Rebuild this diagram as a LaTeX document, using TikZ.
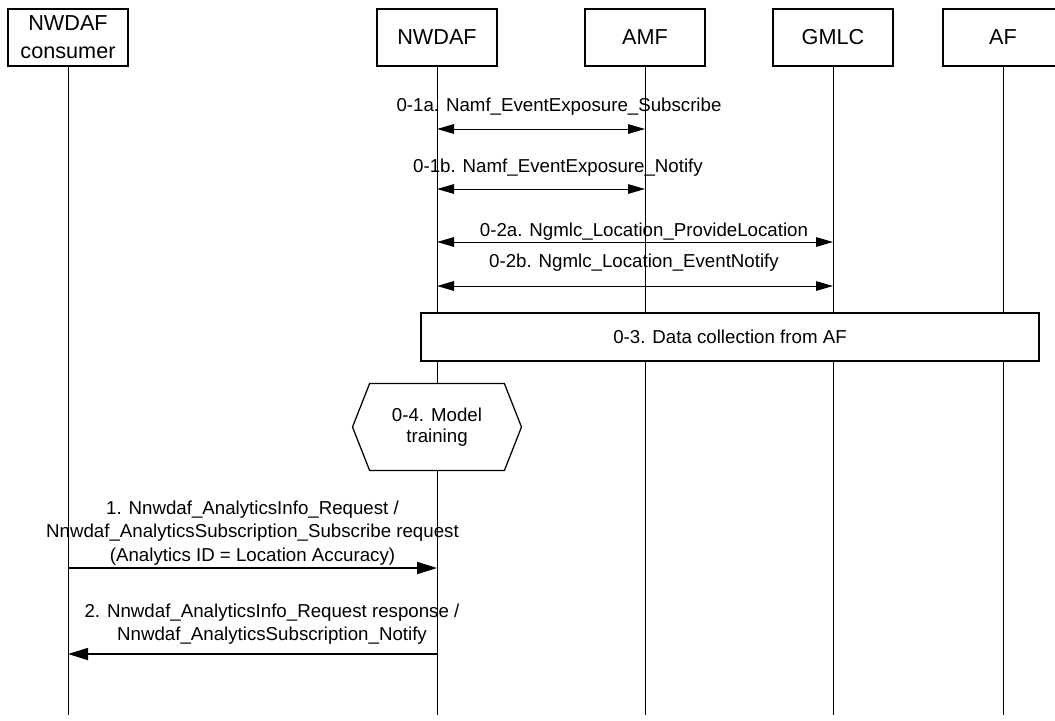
\documentclass[tikz,border=0pt]{standalone}
\usepackage{fontspec}
\setmainfont{Liberation Sans}
\usetikzlibrary{arrows.meta,positioning,shapes.symbols}
\tikzset{
  nfbox/.style={draw,line width=0.9pt,fill=white,minimum width=3cm,minimum height=1.425cm,
                align=center,inner sep=1pt,font=\fontsize{15.4}{20}\selectfont},
  lifeline/.style={line width=0.7pt},
  msglabel/.style={align=center,inner sep=0pt,font=\fontsize{13.3}{16.5}\selectfont},
  duplex/.style={{Triangle[length=4.25mm,width=2.4mm]}-{Triangle[length=4.25mm,width=2.4mm]},line width=0.7pt},
  simplex/.style={-{Triangle[length=5mm,width=3mm]},line width=1.2pt},
  stepbox/.style={draw,line width=0.9pt,fill=white,minimum width=15.45cm,minimum height=1.2cm,
                  inner sep=1pt,font=\fontsize{13.3}{16.5}\selectfont},
  hexbox/.style={signal,signal to=west and east,signal pointer angle=137,draw,line width=0.9pt,
                 fill=white,minimum width=4.225cm,minimum height=2.175cm,align=center,
                 inner sep=1pt,font=\fontsize{13.3}{15}\selectfont},
}

\begin{document}
\begin{tikzpicture}
\useasboundingbox (0,0) rectangle (26.375,-18);

% -----------------------------------------------------------------
% network functions and their lifelines
% -----------------------------------------------------------------
\node[nfbox] (cons)  at (1.7,-0.9375)    {NWDAF\\consumer};
\node[nfbox] (nwdaf) at (10.925,-0.9375) {NWDAF};
\node[nfbox] (amf)   at (16.125,-0.9375) {AMF};
\node[nfbox] (gmlc)  at (20.825,-0.9375) {GMLC};
\node[nfbox] (af)    at (25.075,-0.9375) {AF};

\coordinate (bottom) at (0,-17.875);
\foreach \nf in {cons,nwdaf,amf,gmlc,af}
  \draw[lifeline] (\nf.south) -- (\nf.south |- bottom);

% -----------------------------------------------------------------
% 0-1 / 0-2 -- data collection from AMF and GMLC
% -----------------------------------------------------------------
\coordinate (m1a) at (0,-3.225);
\coordinate (m1b) at (0,-4.725);
\coordinate (m2a) at (0,-6.05);
\coordinate (m2b) at (0,-7.15);

\node[msglabel] (l1a) at (13.975,-2.675) {0-1a. Namf\_EventExposure\_Subscribe};
\node[msglabel] (l1b) at (13.95,-4.2)    {0-1b. Namf\_EventExposure\_Notify};
\node[msglabel] (l2a) at (16.1,-5.8)     {0-2a. Ngmlc\_Location\_ProvideLocation};
\node[msglabel] (l2b) at (15.85,-6.575)  {0-2b. Ngmlc\_Location\_EventNotify};

\draw[duplex] (nwdaf |- m1a) -- (amf |- m1a);
\draw[duplex] (nwdaf |- m1b) -- (amf |- m1b);
\draw[duplex] (nwdaf |- m2a) -- (gmlc |- m2a);
\draw[duplex] (nwdaf |- m2b) -- (gmlc |- m2b);

% -----------------------------------------------------------------
% 0-3 / 0-4 -- AF data and model training
% -----------------------------------------------------------------
\node[stepbox] (afdata) at (18.25,-8.425) {0-3. Data collection from AF};
\node[hexbox]  (train)  at (10.925,-10.675) {0-4. Model\\training};

% -----------------------------------------------------------------
% 1 / 2 -- request and response
% -----------------------------------------------------------------
\coordinate (req) at (0,-14.2);
\coordinate (rsp) at (0,-16.35);

\node[msglabel] (lreq) at (6.3125,-13.325)
  {1. Nnwdaf\_AnalyticsInfo\_Request /\\Nnwdaf\_AnalyticsSubscription\_Subscribe request\\(Analytics ID = Location Accuracy)};
\node[msglabel] (lrsp) at (6.8,-15.6125)
  {2. Nnwdaf\_AnalyticsInfo\_Request response /\\Nnwdaf\_AnalyticsSubscription\_Notify};

\draw[simplex] (cons |- req) -- (nwdaf |- req);
\draw[simplex] (nwdaf |- rsp) -- (cons |- rsp);

\end{tikzpicture}
\end{document}
